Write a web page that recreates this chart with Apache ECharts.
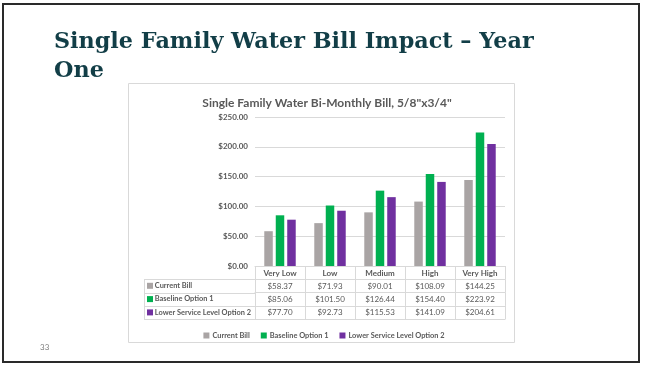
<!DOCTYPE html>
<html><head><meta charset="utf-8">
<script src="https://cdn.jsdelivr.net/npm/echarts@6/dist/echarts.min.js"></script>
<style>html,body{margin:0;padding:0;background:#fff}#c{width:648px;height:368px}</style>
</head><body><div id="c"></div>
<script>
const categories = ['Very Low', 'Low', 'Medium', 'High', 'Very High'];
const seriesNames = ['Current Bill', 'Baseline Option 1', 'Lower Service Level Option 2'];
const currentBill = [58.37, 71.93, 90.01, 108.09, 144.25];
const baselineOption1 = [85.06, 101.50, 126.44, 154.40, 223.92];
const lowerServiceOption2 = [77.70, 92.73, 115.53, 141.09, 204.61];
const yMin = 0, yMax = 250, yStep = 50;

const colors = ['#A9A4A4', '#00B050', '#7030A0'];
const seriesData = [currentBill, baselineOption1, lowerServiceOption2];
const fmt = v => '$' + v.toFixed(2);

const G = {left: 255, right: 505, top: 117, bottom: 266};
const rowH = 13.3;
const lineC = '#D9D9D9';
const txtC = '#595959';
const FF = 'Lato';

const chart = echarts.init(document.getElementById('c'));

const xAxes = [{
  type: 'category', data: categories, position: 'bottom',
  axisLine: {lineStyle: {color: lineC}},
  axisTick: {show: true, length: rowH, lineStyle: {color: lineC}},
  axisLabel: {margin: 3, fontSize: 8, fontWeight: 'bold', color: txtC, fontFamily: FF}
}];
seriesData.forEach((d, i) => {
  xAxes.push({
    type: 'category', data: d.map(fmt), position: 'bottom', offset: rowH * (i + 1),
    axisLine: {lineStyle: {color: lineC}},
    axisTick: {show: true, length: rowH, lineStyle: {color: lineC}},
    axisLabel: {margin: 3, fontSize: 8, color: txtC, fontFamily: FF},
    name: '{s|}' + ' ' + seriesNames[i],
    nameLocation: 'start', nameGap: 108,
    nameTextStyle: {align: 'left', verticalAlign: 'top', padding: [3, 0, 0, 0],
      fontSize: 7.4, fontWeight: 'bold', color: txtC, fontFamily: FF,
      rich: {s: {width: 6, height: 6, backgroundColor: colors[i]}}}
  });
});
xAxes.push({
  type: 'category', data: categories, position: 'bottom', offset: rowH * 4,
  axisLine: {lineStyle: {color: lineC}}, axisTick: {show: false}, axisLabel: {show: false}
});

const tableLeft = 144;
const tableLines = [];
for (let r = 1; r <= 4; r++) {
  const y = Math.round(G.bottom + rowH * r) + 0.5;
  tableLines.push({type: 'line', shape: {x1: tableLeft, y1: y, x2: G.left, y2: y},
    style: {stroke: lineC, lineWidth: 1}, silent: true});
}
tableLines.push({type: 'line', shape: {x1: tableLeft + 0.5, y1: G.bottom + rowH, x2: tableLeft + 0.5, y2: G.bottom + rowH * 4},
  style: {stroke: lineC, lineWidth: 1}, silent: true});

chart.setOption({
  animation: false,
  title: [{
    text: 'Single Family Water Bill Impact – Year\nOne',
    left: 49, top: 23,
    textStyle: {fontFamily: 'DejaVu Serif', fontWeight: 'bold', fontSize: 22.3, color: '#123E47', lineHeight: 29}
  }, {
    text: 'Single Family Water Bi-Monthly Bill, 5/8"x3/4"',
    left: 322, top: 92, textAlign: 'center',
    textStyle: {fontFamily: FF, fontWeight: 'bold', fontSize: 12, color: txtC}
  }],
  legend: {
    data: seriesNames, top: 327, left: 'center',
    icon: 'rect', itemWidth: 6, itemHeight: 6, itemGap: 11, itemStyle: {borderWidth: 0},
    textStyle: {fontSize: 7.4, fontWeight: 'bold', color: txtC, fontFamily: FF, padding: [0, 0, 0, -2]}
  },
  grid: {left: G.left, right: 648 - G.right, top: G.top, bottom: 368 - G.bottom, containLabel: false},
  xAxis: xAxes,
  yAxis: {
    type: 'value', min: yMin, max: yMax, interval: yStep,
    axisLine: {show: false}, axisTick: {show: false},
    axisLabel: {formatter: fmt, fontSize: 8, fontWeight: 'bold', color: txtC, fontFamily: FF, margin: 7},
    splitLine: {lineStyle: {color: lineC}}
  },
  series: seriesData.map((d, i) => ({
    name: seriesNames[i], type: 'bar', data: d, xAxisIndex: 0,
    barWidth: 8.5, barGap: '35%', itemStyle: {color: colors[i]}
  })),
  graphic: [
    {type: 'rect', shape: {x: 3, y: 4, width: 636, height: 358}, style: {fill: 'none', stroke: '#2a2a2a', lineWidth: 2}, silent: true, z: 100},
    {type: 'rect', shape: {x: 128.5, y: 83.5, width: 386, height: 259}, style: {fill: 'none', stroke: lineC, lineWidth: 1}, silent: true},
    {type: 'text', x: 40, y: 343, style: {text: '33', fontSize: 8, fill: '#7F7F7F', fontFamily: FF}, silent: true},
    ...tableLines
  ]
});
</script>
</body></html>
